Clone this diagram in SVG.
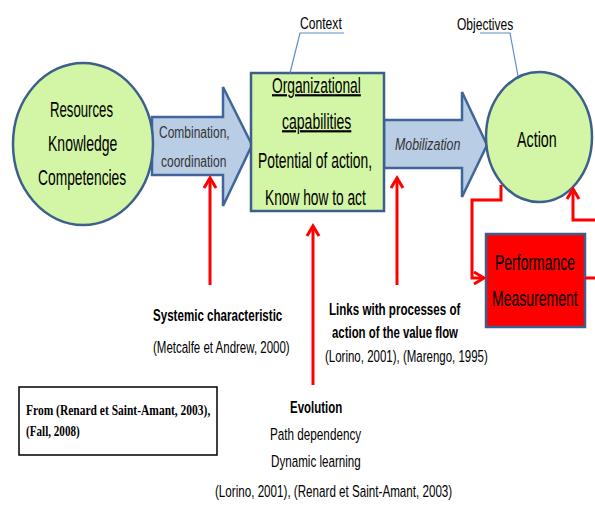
<svg xmlns="http://www.w3.org/2000/svg" width="595" height="506" viewBox="0 0 595 506">
<style>
.node{fill:#d3f5a6;stroke:#3d5f8c;stroke-width:2.5}
.arr{fill:#b9cde5;stroke:#41659a;stroke-width:2.5}
.t{font-family:"Liberation Sans",Arial,sans-serif;fill:#000}
.big{font-size:22px}
.lbl{font-size:16px;fill:#333}
.sm{font-size:17px}
.b{font-weight:bold}
.serif{font-family:"Liberation Serif","Times New Roman",serif;font-weight:bold;font-size:15px}
.red{fill:none;stroke:#ff0000;stroke-width:3}
.call{fill:none;stroke:#5b8bd0;stroke-width:1.2}
</style>
<defs>
<marker id="ah" markerUnits="userSpaceOnUse" markerWidth="16" markerHeight="16" refX="0" refY="0" viewBox="-12 -8 14 16" orient="auto">
<path d="M-10,-6 L0,0 L-10,6" fill="none" stroke="#ff0000" stroke-width="3"/>
</marker>
</defs>

<g id="arrow-combination">
<polygon class="arr" points="152,117 223,117 223,87 252,145 223,206 223,175 152,175"/>
<text class="t lbl" transform="translate(159,138) scale(0.76,1)" textLength="93" lengthAdjust="spacingAndGlyphs">Combination,</text>
<text class="t lbl" transform="translate(161,167) scale(0.76,1)" textLength="86" lengthAdjust="spacingAndGlyphs">coordination</text>
</g>
<g id="arrow-mobilization">
<polygon class="arr" points="384,120 462,120 462,92 487,145 462,197 462,168 384,168"/>
<text class="t lbl" font-style="italic" transform="translate(395,150) scale(0.76,1)" textLength="86" lengthAdjust="spacingAndGlyphs">Mobilization</text>
</g>

<g id="resources">
<ellipse class="node" cx="83" cy="144" rx="70" ry="81"/>
<text class="t big" transform="translate(50,117) scale(0.63,1)" textLength="100" lengthAdjust="spacingAndGlyphs">Resources</text>
<text class="t big" transform="translate(48,151) scale(0.63,1)" textLength="110" lengthAdjust="spacingAndGlyphs">Knowledge</text>
<text class="t big" transform="translate(38,185) scale(0.63,1)" textLength="140" lengthAdjust="spacingAndGlyphs">Competencies</text>
</g>

<g id="capabilities">
<rect class="node" x="251" y="73" width="133" height="138"/>
<text class="t big" text-decoration="underline" transform="translate(272,93) scale(0.63,1)" textLength="141" lengthAdjust="spacingAndGlyphs">Organizational</text>
<text class="t big" text-decoration="underline" transform="translate(282,129) scale(0.63,1)" textLength="110" lengthAdjust="spacingAndGlyphs">capabilities</text>
<text class="t big" transform="translate(258,168) scale(0.63,1)" textLength="181" lengthAdjust="spacingAndGlyphs">Potential of action,</text>
<text class="t big" transform="translate(265,205) scale(0.63,1)" textLength="160" lengthAdjust="spacingAndGlyphs">Know how to act</text>
</g>

<g id="action">
<ellipse class="node" cx="539" cy="137" rx="53" ry="65"/>
<text class="t big" transform="translate(517,147) scale(0.63,1)" textLength="63" lengthAdjust="spacingAndGlyphs">Action</text>
</g>

<g id="performance">
<rect x="486" y="234" width="99" height="93" fill="#ff0000" stroke="#3d5f8c" stroke-width="2.5"/>
<text class="t big" transform="translate(495,270) scale(0.63,1)" textLength="127" lengthAdjust="spacingAndGlyphs">Performance</text>
<text class="t big" transform="translate(492,306) scale(0.63,1)" textLength="136" lengthAdjust="spacingAndGlyphs">Measurement</text>
</g>

<g id="context">
<text class="t" font-size="16" transform="translate(300,29) scale(0.76,1)" textLength="55" lengthAdjust="spacingAndGlyphs">Context</text>
<polyline class="call" points="344,33 300,33 290,73"/>
</g>
<g id="objectives">
<text class="t" font-size="16" transform="translate(457,30) scale(0.76,1)" textLength="74" lengthAdjust="spacingAndGlyphs">Objectives</text>
<polyline class="call" points="480,33 510,33 518,76"/>
</g>

<g id="connectors">
<line class="red" x1="210" y1="285" x2="210" y2="178" marker-end="url(#ah)"/>
<line class="red" x1="313" y1="385" x2="313" y2="226" marker-end="url(#ah)"/>
<line class="red" x1="397" y1="285" x2="397" y2="178" marker-end="url(#ah)"/>
<polyline class="red" points="501,185 501,200 472,200 472,278 484,278" marker-end="url(#ah)"/>
<polyline class="red" points="595,220 573,220 573,189" marker-end="url(#ah)"/>
<line class="red" x1="585" y1="278" x2="595" y2="278"/>
</g>

<g id="systemic">
<text class="t sm b" transform="translate(153,321) scale(0.67,1)" textLength="193" lengthAdjust="spacingAndGlyphs">Systemic characteristic</text>
<text class="t sm" transform="translate(153,353) scale(0.67,1)" textLength="204" lengthAdjust="spacingAndGlyphs">(Metcalfe et Andrew, 2000)</text>
</g>

<g id="links">
<text class="t sm b" transform="translate(329,315) scale(0.67,1)" textLength="196" lengthAdjust="spacingAndGlyphs">Links with processes of</text>
<text class="t sm b" transform="translate(332,338) scale(0.67,1)" textLength="188" lengthAdjust="spacingAndGlyphs">action of the value flow</text>
<text class="t sm" transform="translate(325,362) scale(0.67,1)" textLength="243" lengthAdjust="spacingAndGlyphs">(Lorino, 2001), (Marengo, 1995)</text>
</g>

<g id="evolution">
<text class="t sm b" transform="translate(290,413) scale(0.67,1)" textLength="78" lengthAdjust="spacingAndGlyphs">Evolution</text>
<text class="t sm" transform="translate(270,440) scale(0.67,1)" textLength="136" lengthAdjust="spacingAndGlyphs">Path dependency</text>
<text class="t sm" transform="translate(271,467) scale(0.67,1)" textLength="134" lengthAdjust="spacingAndGlyphs">Dynamic learning</text>
<text class="t sm" transform="translate(215,497) scale(0.67,1)" textLength="354" lengthAdjust="spacingAndGlyphs">(Lorino, 2001), (Renard et Saint-Amant, 2003)</text>
</g>

<g id="source">
<rect x="19" y="387" width="198" height="68" fill="#fff" stroke="#000" stroke-width="1.5"/>
<text class="serif" transform="translate(26,415) scale(0.68,1)" textLength="271" lengthAdjust="spacingAndGlyphs">From (Renard et Saint-Amant, 2003),</text>
<text class="serif" transform="translate(26,436) scale(0.68,1)" textLength="79" lengthAdjust="spacingAndGlyphs">(Fall, 2008)</text>
</g>
</svg>
